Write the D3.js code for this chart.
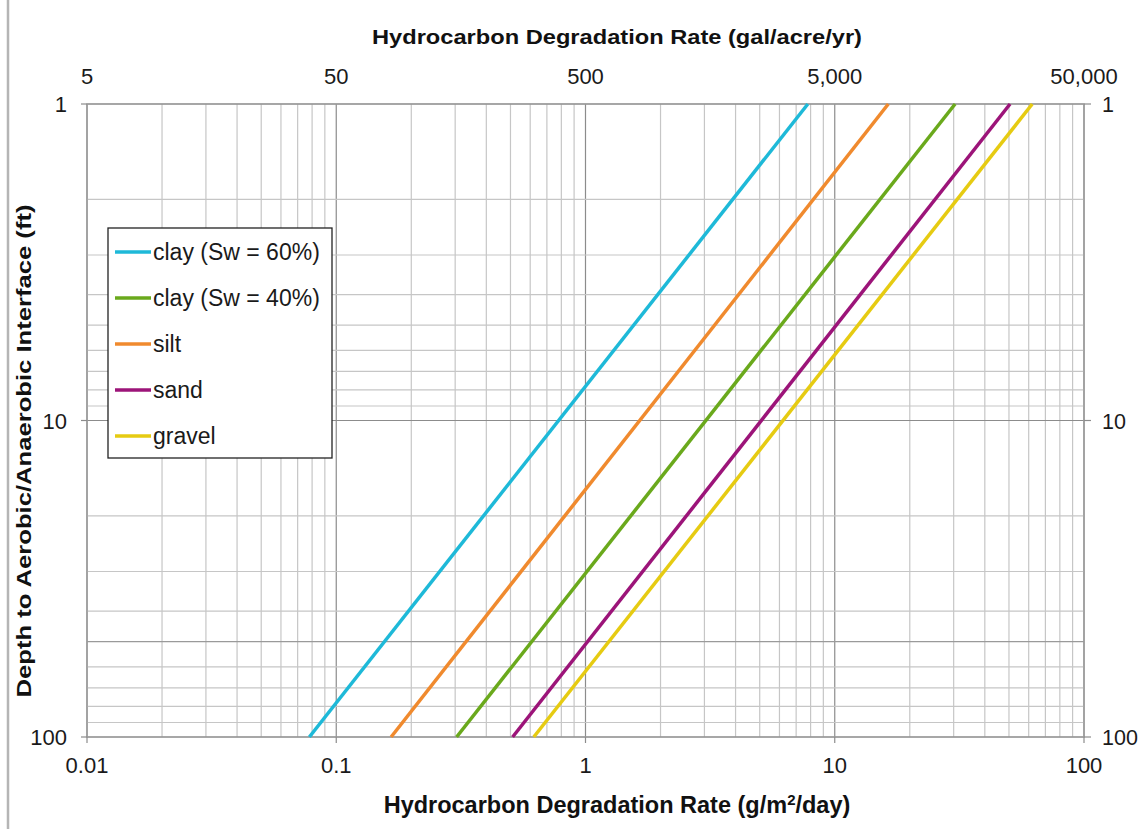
<!DOCTYPE html>
<html>
<head>
<meta charset="utf-8">
<script src="https://cdn.jsdelivr.net/npm/d3@7"></script>
<style>
  html, body { margin: 0; padding: 0; background: #fff; }
  svg { display: block; font-family: "Liberation Sans", Arial, sans-serif; }
</style>
</head>
<body>
<svg id="chart" width="1141" height="829"></svg>
<script>
// ---- data ----
const seriesNames = ["clay (Sw = 60%)", "clay (Sw = 40%)", "silt", "sand", "gravel"];
const seriesColors = ["#1eb9d8", "#6aa91c", "#f08a2e", "#9c1479", "#e6cb12"];
const depths = [1, 100];                 // ft
const rateClay60 = [7.8, 0.078];         // g/m2/day at depth 1 and 100 ft
const rateClay40 = [30.4, 0.304];
const rateSilt = [16.4, 0.166];
const rateSand = [50.5, 0.51];
const rateGravel = [62, 0.62];
const seriesValues = [rateClay60, rateClay40, rateSilt, rateSand, rateGravel];
const xTicks = [0.01, 0.1, 1, 10, 100];
const xTickLabels = ["0.01", "0.1", "1", "10", "100"];
const topTicks = [5, 50, 500, 5000, 50000];
const topTickLabels = ["5", "50", "500", "5,000", "50,000"];
const yTicks = [1, 10, 100];
const yTickLabels = ["1", "10", "100"];

// ---- layout ----
const L = 87, R = 1084, T = 104, B = 737;
const svg = d3.select("#chart");

const x = d3.scaleLog().domain([0.01, 100]).range([L, R]);
const xTop = d3.scaleLog().domain([5, 50000]).range([L, R]);
const y = d3.scaleLog().domain([1, 100]).range([T, B]);

// left page rule
svg.append("line").attr("x1", 8).attr("x2", 8).attr("y1", 0).attr("y2", 829)
  .attr("stroke", "#b5b5b5").attr("stroke-width", 2.5);

// grid
const gx = [];
for (let e = -2; e < 2; e++) for (let m = 1; m <= 9; m++) gx.push(m * Math.pow(10, e));
gx.push(100);
const gy = [];
for (let e = 0; e < 2; e++) for (let m = 1; m <= 9; m++) gy.push(m * Math.pow(10, e));
gy.push(100);

const isMajor = v => Math.abs(Math.log10(v) - Math.round(Math.log10(v))) < 1e-9;

const grid = svg.append("g");
grid.selectAll("line.vx").data(gx).join("line")
  .attr("x1", d => x(d)).attr("x2", d => x(d)).attr("y1", T).attr("y2", B)
  .attr("stroke", d => isMajor(d) ? "#8c8c8c" : "#c6c6c6").attr("stroke-width", 1.2);
grid.selectAll("line.hy").data(gy).join("line")
  .attr("x1", L).attr("x2", R).attr("y1", d => y(d)).attr("y2", d => y(d))
  .attr("stroke", d => isMajor(d) ? "#8c8c8c" : (d === 50 ? "#9a9a9a" : "#c6c6c6")).attr("stroke-width", 1.2);
// border
svg.append("rect").attr("x", L).attr("y", T).attr("width", R - L).attr("height", B - T)
  .attr("fill", "none").attr("stroke", "#9a9a9a").attr("stroke-width", 1.4);

// ticks (outward)
const tickCol = "#8c8c8c";
svg.append("g").selectAll("line").data(xTicks).join("line")
  .attr("x1", d => x(d)).attr("x2", d => x(d)).attr("y1", B).attr("y2", B + 6)
  .attr("stroke", tickCol).attr("stroke-width", 1.2);
svg.append("g").selectAll("line").data(yTicks).join("line")
  .attr("x1", L - 6).attr("x2", L).attr("y1", d => y(d)).attr("y2", d => y(d))
  .attr("stroke", tickCol).attr("stroke-width", 1.2);
svg.append("g").selectAll("line").data(yTicks).join("line")
  .attr("x1", R).attr("x2", R + 7).attr("y1", d => y(d)).attr("y2", d => y(d))
  .attr("stroke", tickCol).attr("stroke-width", 1.2);

// tick labels
const tickFont = 22, tickFill = "#1a1a1a";
svg.append("g").selectAll("text").data(xTicks).join("text")
  .attr("x", d => x(d)).attr("y", 773).attr("text-anchor", "middle")
  .attr("font-size", tickFont).attr("fill", tickFill)
  .text((d, i) => xTickLabels[i]);
svg.append("g").selectAll("text").data(topTicks).join("text")
  .attr("x", d => xTop(d)).attr("y", 84).attr("text-anchor", "middle")
  .attr("font-size", tickFont).attr("fill", tickFill)
  .text((d, i) => topTickLabels[i]);
svg.append("g").selectAll("text").data(yTicks).join("text")
  .attr("x", 67).attr("y", d => y(d) + 8).attr("text-anchor", "end")
  .attr("font-size", tickFont).attr("fill", tickFill)
  .text((d, i) => yTickLabels[i]);
svg.append("g").selectAll("text").data(yTicks).join("text")
  .attr("x", 1102).attr("y", d => y(d) + 8).attr("text-anchor", "start")
  .attr("font-size", 21.5).attr("fill", tickFill)
  .text((d, i) => yTickLabels[i]);

// axis titles
svg.append("text").attr("x", 617).attr("y", 44).attr("text-anchor", "middle")
  .attr("font-size", 21).attr("font-weight", "bold").attr("fill", "#111")
  .attr("textLength", 490).attr("lengthAdjust", "spacingAndGlyphs")
  .text("Hydrocarbon Degradation Rate (gal/acre/yr)");
const bt = svg.append("text").attr("x", 617).attr("y", 813).attr("text-anchor", "middle")
  .attr("font-size", 23.5).attr("font-weight", "bold").attr("fill", "#111");
bt.append("tspan").text("Hydrocarbon Degradation Rate (g/m");
bt.append("tspan").attr("dy", -8).attr("font-size", 15).text("2");
bt.append("tspan").attr("dy", 8).text("/day)");
svg.append("text").attr("transform", "translate(31,451) rotate(-90)").attr("text-anchor", "middle")
  .attr("font-size", 21).attr("font-weight", "bold").attr("fill", "#111")
  .attr("textLength", 493).attr("lengthAdjust", "spacingAndGlyphs")
  .text("Depth to Aerobic/Anaerobic Interface (ft)");

// series lines
const line = d3.line().x(d => x(d[0])).y(d => y(d[1]));
svg.append("g").selectAll("path").data(seriesValues).join("path")
  .attr("d", vals => line(vals.map((v, i) => [v, depths[i]])))
  .attr("fill", "none")
  .attr("stroke", (d, i) => seriesColors[i])
  .attr("stroke-width", 3.5);

// legend
const lg = svg.append("g");
lg.append("rect").attr("x", 108).attr("y", 228).attr("width", 224).attr("height", 230)
  .attr("fill", "#fff").attr("stroke", "#222").attr("stroke-width", 1.3);
const items = lg.selectAll("g").data(seriesNames).join("g")
  .attr("transform", (d, i) => `translate(0,${252 + i * 46})`);
items.append("line").attr("x1", 115).attr("x2", 151).attr("y1", 0).attr("y2", 0)
  .attr("stroke", (d, i) => seriesColors[i]).attr("stroke-width", 3.5);
items.append("text").attr("x", 153).attr("y", 8).attr("font-size", 23).attr("fill", "#1a1a1a")
  .text(d => d);
</script>
</body>
</html>
